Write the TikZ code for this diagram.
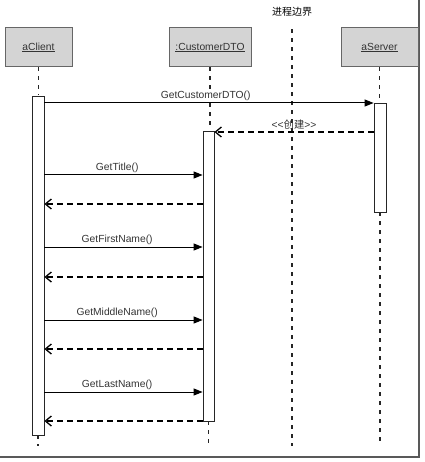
\documentclass[tikz,border=0pt]{standalone}
\usepackage{fontspec}
\setmainfont{Liberation Sans}
\newfontfamily\cjk{Noto Sans CJK SC}
\usetikzlibrary{positioning, arrows.meta}
\tikzstyle{object} = [draw=black!60, fill=black!17, line width=1pt, minimum height=39pt,
 text centered, text=black!80, font=\fontsize{10.3}{12}\selectfont]
\tikzstyle{activation} = [draw=black!85, fill=white, line width=0.8pt, minimum width=11pt, inner sep=0]
\tikzstyle{lifeline} = [line width=1.8pt, dash pattern=on 3.5pt off 5.5pt, black!85]
\tikzstyle{call} = [line width=1pt, -{Triangle[length=9pt, width=7pt]}]
\tikzstyle{return} = [line width=1.3pt, dash pattern=on 6pt off 4pt, -{Straight Barb[length=6pt, width=10pt]}]
\tikzstyle{msg-label} = [above, inner sep=2pt, text=black!80, font=\fontsize{10.3}{12}\selectfont]
\newcommand{\CallReturn}[3]{%
    \draw[call] (CLIENT_ACT.east |- 0,#2) -- node[msg-label, pos=0.46] {#1}
        (DTO_ACT.west |- 0,#2);
    \draw[return] (DTO_ACT.west |- 0,#3) -- (CLIENT_ACT.east |- 0,#3);
}

\begin{document}
\begin{tikzpicture}[x=1pt, y=-1pt]
\useasboundingbox (0,0) rectangle (424,462);

% frame
\draw[black!65, line width=1.6pt] (419,0) -- (419,457) -- (0,457);

\node (CLIENT) [object, minimum width=67pt] at (38.5,47.5) {\underline{aClient}};
\node (DTO) [object, minimum width=82pt] at (210,47.5) {\underline{:CustomerDTO}};
\node (SERVER) [object, minimum width=77pt] at (379.5,47.5) {\underline{aServer}};

\node (BOUNDARY) [font=\cjk\fontsize{10}{12}\selectfont] at (292,12) {进程边界};

\coordinate (BOTTOM) at (0,446);

% Lifelines
\draw[lifeline] (CLIENT.south) -- (CLIENT.south |- 0,95);
\draw[lifeline] (DTO.south) -- (DTO.south |- 0,130);
\draw[lifeline] (SERVER.south) -- (SERVER.south |- 0,102);
\draw[lifeline] ([yshift=-9pt]BOUNDARY.south) -- (BOUNDARY.south |- BOTTOM);

\node (CLIENT_ACT) [activation, minimum width=12pt, minimum height=339pt] at (38,265.5) {};
\node (DTO_ACT) [activation, minimum height=290pt] at (208.5,276) {};
\node (SERVER_ACT) [activation, minimum width=12pt, minimum height=109pt] at (380,157.5) {};

\draw[lifeline] (CLIENT_ACT.south) -- (CLIENT_ACT.south |- BOTTOM);
\draw[lifeline] (DTO_ACT.south) -- (DTO_ACT.south |- BOTTOM);
\draw[lifeline] (SERVER_ACT.south) -- (SERVER_ACT.south |- BOTTOM);

% Messages
\draw[call] (CLIENT_ACT.east |- 0,103) -- node[msg-label, fill=white, pos=0.49] {GetCustomerDTO()}
    (SERVER_ACT.west |- 0,103);
\draw[return] (SERVER_ACT.west |- 0,132) -- node[msg-label] {{<}{<}{\cjk 创建}{>}{>}}
    (DTO_ACT.east |- 0,132);

\CallReturn{GetTitle()}{175}{204}
\CallReturn{GetFirstName()}{247}{277}
\CallReturn{GetMiddleName()}{320}{349}
\CallReturn{GetLastName()}{392}{421}

\end{tikzpicture}
\end{document}
